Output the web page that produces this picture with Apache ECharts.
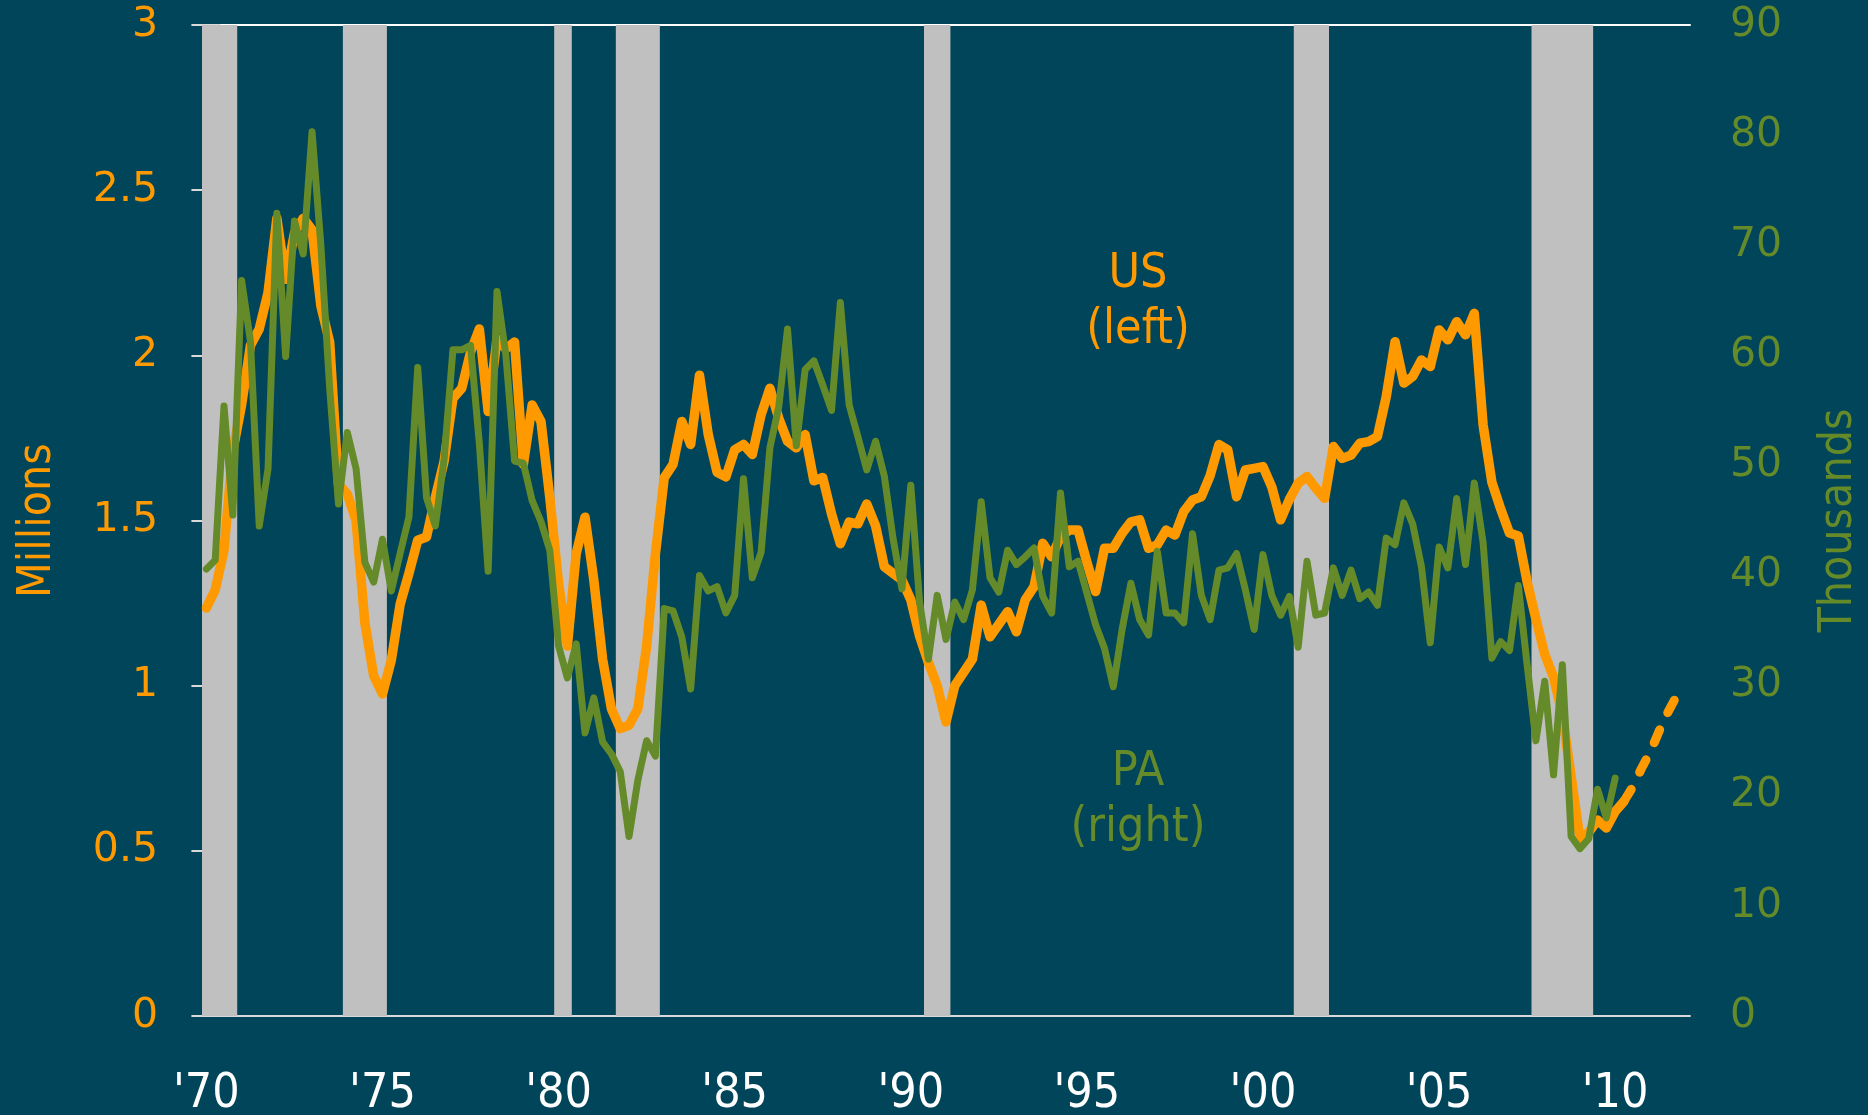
<!DOCTYPE html>
<html><head><meta charset="utf-8">
<script src="https://cdn.jsdelivr.net/npm/echarts@6/dist/echarts.min.js"></script>
<style>html,body{margin:0;padding:0;background:#004559;}#c{width:1868px;height:1115px;}</style>
</head><body><div id="c"></div>
<script>
// Quarterly categories 1970Q1 .. 2012Q1
const firstYear = 1970, lastYear = 2012;
const quarters = [];
for (let y = firstYear; y <= lastYear; y++) for (let q = 1; q <= 4; q++) { if (y === lastYear && q > 1) break; quarters.push(y + 'Q' + q); }

// US housing starts, millions (left axis), 1970Q1 .. 2010Q2
const usStarts = [
 1.235,1.29,1.41,1.71, 1.85,2.03,2.08,2.19, 2.415,2.23,2.37,2.415, 2.38,2.15,2.04,1.61,
 1.58,1.50,1.19,1.03, 0.975,1.077,1.246,1.34, 1.44,1.45,1.57,1.68, 1.87,1.90,2.01,2.08,
 1.83,2.05,2.02,2.04, 1.67,1.85,1.80,1.57, 1.31,1.12,1.40,1.51, 1.32,1.08,0.93,0.87,
 0.88,0.93,1.12,1.40, 1.63,1.67,1.80,1.73, 1.94,1.76,1.646,1.632, 1.714,1.73,1.70,1.82,
 1.90,1.81,1.74,1.72, 1.76,1.62,1.63,1.52, 1.43,1.495,1.49,1.55, 1.484,1.36,1.34,1.32,
 1.26,1.15,1.07,1.00, 0.89,1.00,1.04,1.08, 1.244,1.148,1.186,1.224, 1.163,1.26,1.30,1.431,
 1.39,1.451,1.471,1.471, 1.374,1.285,1.416,1.416, 1.461,1.496,1.502,1.416, 1.426,1.471,1.456,1.527,
 1.562,1.572,1.636,1.73, 1.714,1.572,1.653,1.658, 1.663,1.602,1.502,1.564, 1.613,1.633,1.598,1.567,
 1.724,1.688,1.698,1.734, 1.739,1.754,1.875,2.041, 1.916,1.936,1.986,1.966, 2.077,2.047,2.102,2.062,
 2.127,1.79,1.616,1.535, 1.462,1.453,1.315,1.202, 1.095,1.026,0.913,0.725, 0.537,0.556,0.593,0.569,
 0.619,0.65
];
// US forecast (dashed), millions, 2010Q2 .. 2011Q4
const usForecastStart = '2010Q2';
const usForecast = [0.65,0.694,0.75,0.80,0.863,0.92,0.97];

// Pennsylvania housing starts, thousands (right axis), 1970Q1 .. 2010Q1
const paStarts = [
 40.6,41.4,55.4,45.5, 66.8,61.3,44.5,49.7, 72.9,59.9,72.2,69.2, 80.3,70,57,46.5,
 53.0,49.7,41.2,39.4, 43.3,38.6,42.0,45.3, 58.9,47.1,44.5,50.6, 60.5,60.5,60.9,52,
 40.4,65.8,60.1,50.4, 50.2,46.8,44.9,42.3, 33.6,30.7,33.8,25.7, 28.9,24.9,23.8,22.2,
 16.3,21.4,25.0,23.6, 37.0,36.8,34.4,29.7, 40.0,38.6,39.0,36.6, 38.2,48.8,39.8,42.1,
 51.6,55.3,62.4,51.8, 58.7,59.5,57.3,55.0, 64.8,55.5,52.6,49.6, 52.2,49.0,43.3,38.8,
 48.2,37.6,32.4,38.2, 34.2,37.6,36.0,38.7, 46.7,39.8,38.5,42.3, 41.0,41.7,42.5,38.1,
 36.6,47.5,40.8,41.3, 38.4,35.5,33.4,29.9, 35.1,39.3,36.0,34.6, 42.2,36.6,36.6,35.7,
 43.8,38.2,36.0,40.5, 40.7,42.0,38.7,35.1, 41.9,38.2,36.4,38.1, 33.5,41.3,36.4,36.6,
 40.7,38.2,40.5,37.9, 38.5,37.3,43.4,42.8, 46.6,44.7,40.8,33.9, 42.6,40.7,47.0,41.0,
 48.4,43,32.5,34.0, 33.2,39.1,31.9,25.0, 30.4,21.9,31.9,16.3, 15.2,16.1,20.6,18.0,
 21.6
];

// Recessions (shaded), first and last quarter
const recessions = [
 ['1970Q1','1970Q4'], ['1974Q1','1975Q1'], ['1980Q1','1980Q2'], ['1981Q4','1982Q4'],
 ['1990Q3','1991Q1'], ['2001Q1','2001Q4'], ['2007Q4','2009Q2']
];

// X tick labels
const xTickQuarters = ['1970Q1','1975Q1','1980Q1','1985Q1','1990Q1','1995Q1','2000Q1','2005Q1','2010Q1'];
const xTickLabels = ["'70","'75","'80","'85","'90","'95","'00","'05","'10"];
const leftTicks = [0,0.5,1,1.5,2,2.5,3];
const rightTicks = [0,10,20,30,40,50,60,70,80,90];

const idx = q => quarters.indexOf(q);
const tickIdx = xTickQuarters.map(idx);

const ORANGE = '#FF9900', GREEN = '#648A2A', BG = '#004559', BAND = '#C0C0C0', AXIS = '#D9D9D9';
const condensed = "'DejaVu Sans Condensed','Liberation Sans Narrow','DejaVu Sans',sans-serif";
const wide = "'DejaVu Sans',Verdana,sans-serif";

const chart = echarts.init(document.getElementById('c'));
const f0 = idx(usForecastStart);
chart.setOption({
  animation: false,
  backgroundColor: BG,
  grid: { left: 202, right: 178, top: 25, bottom: 99, containLabel: false, outerBoundsMode: 'none' },
  xAxis: [{
    type: 'value', min: -0.5, max: quarters.length - 0.5,
    axisLine: { show: true, onZero: false, lineStyle: { color: AXIS, width: 2 } },
    axisTick: { show: false },
    splitLine: { show: false },
    axisLabel: {
      customValues: tickIdx,
      formatter: v => xTickLabels[tickIdx.indexOf(Math.round(v))] || '',
      color: '#FFFFFF', fontFamily: condensed, fontSize: 48, margin: 55
    }
  }, {
    type: 'value', position: 'top', min: -0.5, max: quarters.length - 0.5,
    axisLine: { show: true, onZero: false, lineStyle: { color: '#FFFFFF', width: 2 } },
    axisTick: { show: false }, axisLabel: { show: false }, splitLine: { show: false }
  }],
  yAxis: [{
    type: 'value', min: 0, max: 3, interval: 0.5, position: 'left',
    name: 'Millions', nameLocation: 'middle', nameRotate: 90, nameGap: 141,
    nameTextStyle: { color: ORANGE, fontFamily: condensed, fontSize: 46 },
    axisLine: { show: true, lineStyle: { color: AXIS, width: 2 } },
    axisTick: { show: true, inside: false, length: 15, lineStyle: { color: AXIS, width: 2 } },
    splitLine: { show: false },
    axisLabel: { color: ORANGE, fontFamily: wide, fontSize: 41, margin: 44,
      formatter: v => String(leftTicks.find(t => Math.abs(t - v) < 1e-9) ?? v) }
  }, {
    type: 'value', min: 0, max: 90, interval: 10, position: 'right',
    name: 'Thousands', nameLocation: 'middle', nameRotate: 90, nameGap: 126,
    nameTextStyle: { color: GREEN, fontFamily: condensed, fontSize: 46 },
    axisLine: { show: true, lineStyle: { color: AXIS, width: 2 } },
    axisTick: { show: true, inside: false, length: 14, lineStyle: { color: AXIS, width: 2 } },
    splitLine: { show: false },
    axisLabel: { color: GREEN, fontFamily: wide, fontSize: 41, margin: 40,
      formatter: v => String(rightTicks.find(t => Math.abs(t - v) < 1e-9) ?? v) }
  }],
  graphic: [
    { type: 'text', x: 1138, y: 247, style: { text: 'US\n(left)', fill: ORANGE, font: '48px ' + condensed, align: 'center', verticalAlign: 'top', lineHeight: 56 } },
    { type: 'text', x: 1138, y: 745, style: { text: 'PA\n(right)', fill: GREEN, font: '48px ' + condensed, align: 'center', verticalAlign: 'top', lineHeight: 56 } }
  ],
  series: [{
    name: 'recessions', type: 'line', data: [], yAxisIndex: 0, silent: true,
    markArea: { silent: true, itemStyle: { color: BAND, opacity: 1 },
      data: recessions.map(r => [{ xAxis: idx(r[0]) - 0.5 }, { xAxis: idx(r[1]) + 0.5 }]) }
  }, {
    name: 'US', type: 'line', yAxisIndex: 0, showSymbol: false, z: 3,
    data: usStarts.map((v, i) => [i, v]),
    lineStyle: { color: ORANGE, width: 9.5, join: 'round', cap: 'round' }
  }, {
    name: 'US forecast', type: 'line', yAxisIndex: 0, showSymbol: false, z: 3,
    data: usForecast.map((v, i) => [f0 + i, v]),
    lineStyle: { color: ORANGE, width: 9, type: [14, 19], cap: 'round', join: 'round' }
  }, {
    name: 'PA', type: 'line', yAxisIndex: 1, showSymbol: false, z: 4,
    data: paStarts.map((v, i) => [i, v]),
    lineStyle: { color: GREEN, width: 7, join: 'round', cap: 'round' }
  }]
});
</script></body></html>
